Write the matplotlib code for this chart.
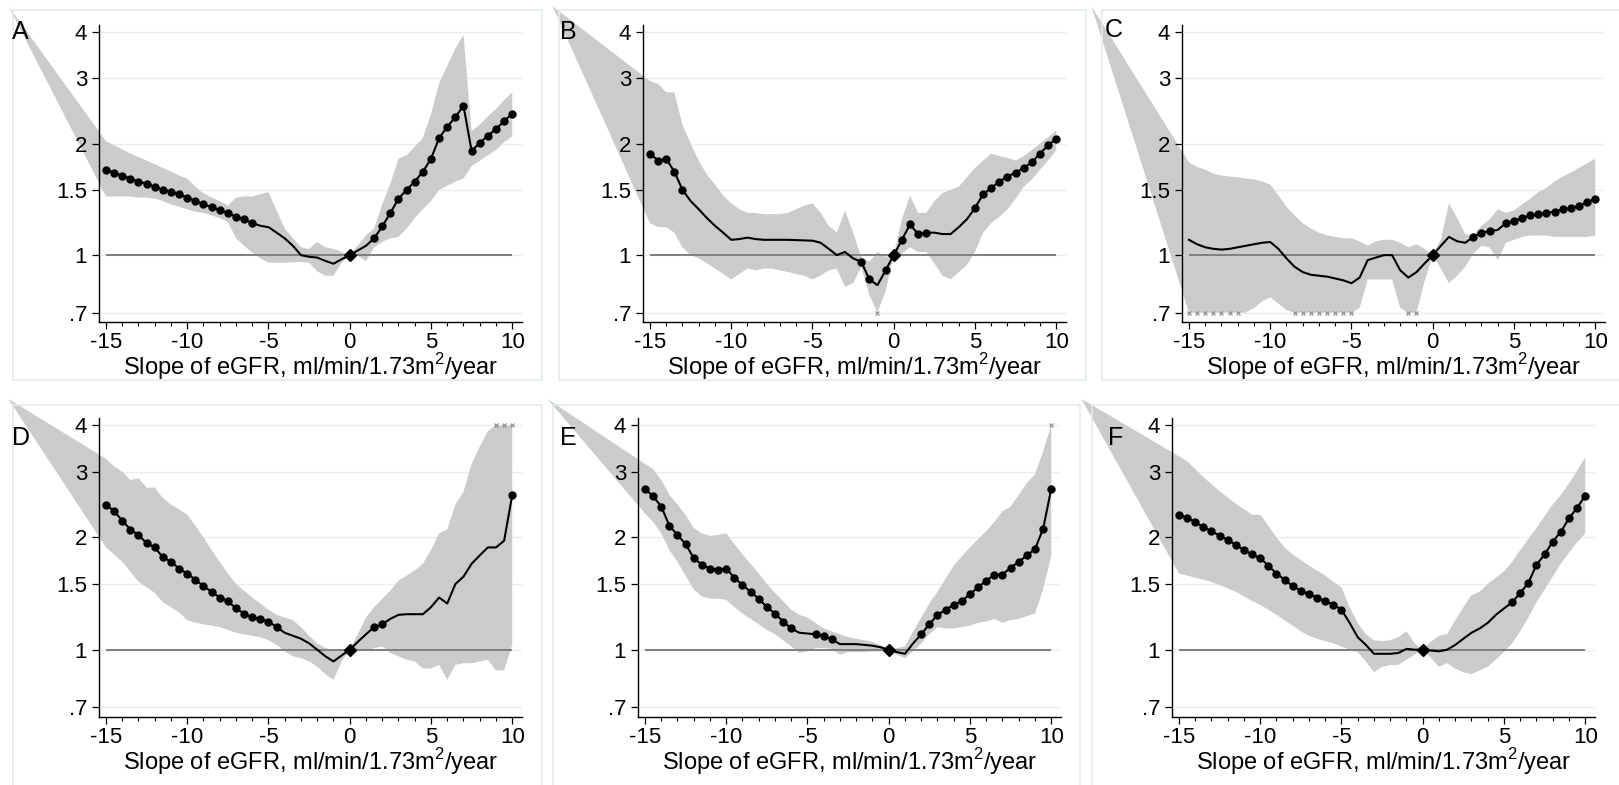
import numpy as np
import matplotlib
matplotlib.use("Agg")
import matplotlib.pyplot as plt
from matplotlib.patches import Rectangle
from matplotlib.ticker import NullFormatter, FixedLocator, MultipleLocator

plt.rcParams['font.family'] = ['Liberation Sans', 'DejaVu Sans']
plt.rcParams['mathtext.fontset'] = 'custom'
plt.rcParams['mathtext.rm'] = 'Liberation Sans'
plt.rcParams['axes.unicode_minus'] = False

# slope of eGFR grid: -15 .. 10 in steps of 0.5
x = np.arange(-15, 10.01, 0.5)

a_est = [1.70, 1.67, 1.64, 1.61, 1.58, 1.56, 1.53, 1.50, 1.48, 1.46, 1.43, 1.40, 1.37, 1.35, 1.32, 1.30, 1.27, 1.25, 1.22,
         1.20, 1.19, 1.15, 1.11, 1.06, 1.0, 0.99, 0.985, 0.965, 0.948, 0.975, 1.0, 1.03, 1.06, 1.11, 1.195, 1.30, 1.42,
         1.50, 1.58, 1.68, 1.82, 2.07, 2.22, 2.36, 2.53, 1.91, 2.01, 2.10, 2.19, 2.30, 2.41]
a_hi = [2.03, 1.98, 1.93, 1.88, 1.84, 1.80, 1.76, 1.72, 1.68, 1.64, 1.61, 1.53, 1.47, 1.43, 1.40, 1.36, 1.43, 1.44, 1.44,
        1.46, 1.48, 1.32, 1.18, 1.11, 1.05, 1.04, 1.085, 1.05, 1.04, 1.02, 1.0, 1.06, 1.13, 1.18, 1.37, 1.56, 1.82,
        1.86, 1.96, 2.07, 2.40, 2.91, 3.24, 3.61, 3.93, 2.16, 2.25, 2.37, 2.48, 2.62, 2.75]
a_lo = [1.44, 1.44, 1.44, 1.44, 1.43, 1.43, 1.42, 1.40, 1.37, 1.35, 1.33, 1.31, 1.30, 1.28, 1.26, 1.23, 1.11, 1.06, 1.017,
        0.98, 0.954, 0.954, 0.954, 0.956, 0.958, 0.954, 0.904, 0.88, 0.88, 0.954, 1.0, 0.996, 0.964, 1.05, 1.085, 1.11,
        1.12, 1.18, 1.26, 1.33, 1.40, 1.50, 1.54, 1.58, 1.61, 1.74, 1.80, 1.86, 1.92, 2.02, 2.09]

b_est = [1.88, 1.80, 1.82, 1.68, 1.50, 1.40, 1.33, 1.26, 1.20, 1.15, 1.10, 1.105, 1.115, 1.105, 1.10, 1.10, 1.10, 1.10,
         1.098, 1.096, 1.094, 1.08, 1.04, 1.0, 1.02, 0.98, 0.96, 0.86, 0.83, 0.91, 1.0, 1.10, 1.21, 1.14, 1.15, 1.15,
         1.14, 1.14, 1.19, 1.25, 1.34, 1.46, 1.52, 1.58, 1.63, 1.67, 1.72, 1.78, 1.88, 1.98, 2.06]
b_hi = [2.95, 2.90, 2.75, 2.75, 2.25, 2.0, 1.80, 1.65, 1.55, 1.45, 1.38, 1.33, 1.30, 1.30, 1.29, 1.29, 1.29, 1.30, 1.33,
        1.36, 1.38, 1.30, 1.20, 1.15, 1.32, 1.15, 0.99, 0.96, 1.02, 0.99, 1.0, 1.25, 1.45, 1.30, 1.30, 1.40, 1.47, 1.50,
        1.53, 1.62, 1.72, 1.80, 1.88, 1.85, 1.83, 1.80, 1.85, 1.92, 2.0, 2.08, 2.17]
b_lo = [1.22, 1.19, 1.19, 1.15, 1.05, 1.0, 0.98, 0.95, 0.92, 0.89, 0.86, 0.89, 0.92, 0.91, 0.92, 0.92, 0.91, 0.90, 0.89,
        0.88, 0.86, 0.88, 0.91, 0.92, 0.82, 0.84, 0.93, 0.78, 0.68, 0.80, 1.0, 1.01, 1.05, 1.02, 1.02, 0.95, 0.88, 0.86,
        0.90, 0.94, 1.02, 1.15, 1.22, 1.27, 1.33, 1.42, 1.53, 1.60, 1.70, 1.80, 1.92]

c_est = [1.10, 1.07, 1.05, 1.04, 1.035, 1.04, 1.05, 1.06, 1.07, 1.08, 1.085, 1.04, 0.98, 0.93, 0.90, 0.885, 0.88, 0.875,
         0.865, 0.855, 0.84, 0.87, 0.97, 0.985, 1.0, 1.0, 0.91, 0.87, 0.90, 0.95, 1.0, 1.06, 1.12, 1.09, 1.08, 1.12, 1.15,
         1.16, 1.17, 1.22, 1.24, 1.26, 1.28, 1.29, 1.30, 1.31, 1.33, 1.34, 1.36, 1.39, 1.42]
c_hi = [1.78, 1.73, 1.70, 1.66, 1.64, 1.63, 1.62, 1.61, 1.60, 1.58, 1.55, 1.45, 1.35, 1.28, 1.22, 1.18, 1.15, 1.13, 1.12,
        1.11, 1.11, 1.09, 1.06, 1.09, 1.10, 1.10, 1.08, 1.05, 1.07, 1.04, 1.0, 1.10, 1.38, 1.26, 1.14, 1.13, 1.20, 1.25,
        1.33, 1.30, 1.32, 1.37, 1.42, 1.48, 1.52, 1.58, 1.63, 1.67, 1.72, 1.77, 1.82]
c_lo = [0.6, 0.6, 0.6, 0.6, 0.6, 0.6, 0.66, 0.70, 0.72, 0.75, 0.77, 0.74, 0.71, 0.65, 0.6, 0.6, 0.6, 0.6, 0.6, 0.6,
        0.65, 0.72, 0.86, 0.86, 0.86, 0.86, 0.72, 0.65, 0.66, 0.85, 1.0, 0.92, 0.84, 0.88, 0.93, 1.01, 1.06, 1.05, 0.97,
        1.08, 1.10, 1.12, 1.13, 1.13, 1.13, 1.12, 1.12, 1.12, 1.12, 1.12, 1.13]

d_est = [2.45, 2.35, 2.22, 2.10, 2.03, 1.93, 1.88, 1.77, 1.72, 1.65, 1.60, 1.54, 1.48, 1.43, 1.38, 1.35, 1.29, 1.25, 1.22,
         1.21, 1.19, 1.15, 1.11, 1.09, 1.07, 1.04, 1.0, 0.96, 0.93, 0.965, 1.0, 1.05, 1.10, 1.15, 1.17, 1.21, 1.24, 1.245,
         1.245, 1.245, 1.30, 1.38, 1.33, 1.50, 1.57, 1.70, 1.79, 1.88, 1.88, 1.96, 2.60]
d_hi = [3.25, 3.1, 3.0, 2.85, 2.88, 2.72, 2.72, 2.55, 2.45, 2.38, 2.30, 2.15, 2.0, 1.85, 1.72, 1.60, 1.50, 1.44, 1.38, 1.33,
        1.28, 1.24, 1.22, 1.20, 1.15, 1.09, 1.04, 1.01, 1.0, 1.0, 1.0, 1.10, 1.22, 1.30, 1.37, 1.44, 1.53, 1.58, 1.63,
        1.70, 1.85, 2.05, 2.10, 2.45, 2.65, 3.15, 3.50, 3.85, 4.3, 4.3, 4.3]
d_lo = [1.88, 1.80, 1.72, 1.62, 1.52, 1.47, 1.42, 1.34, 1.30, 1.26, 1.20, 1.18, 1.17, 1.16, 1.15, 1.13, 1.11, 1.10, 1.09,
        1.08, 1.06, 1.03, 0.99, 0.96, 0.95, 0.93, 0.90, 0.86, 0.83, 0.93, 1.0, 1.0, 0.99, 1.01, 1.02, 0.98, 0.96, 0.94,
        0.93, 0.89, 0.89, 0.91, 0.83, 0.91, 0.92, 0.92, 0.93, 0.94, 0.88, 0.88, 1.03]

e_est = [2.70, 2.58, 2.42, 2.15, 2.03, 1.92, 1.76, 1.69, 1.65, 1.64, 1.65, 1.56, 1.49, 1.43, 1.37, 1.30, 1.25, 1.19, 1.14,
         1.11, 1.105, 1.10, 1.09, 1.065, 1.035, 1.035, 1.035, 1.03, 1.025, 1.015, 1.0, 0.985, 0.975, 1.04, 1.10, 1.17,
         1.24, 1.28, 1.32, 1.35, 1.41, 1.47, 1.53, 1.59, 1.59, 1.66, 1.72, 1.79, 1.86, 2.11, 2.70]
e_hi = [3.15, 3.05, 2.85, 2.60, 2.45, 2.30, 2.12, 2.05, 2.02, 2.03, 2.05, 1.92, 1.80, 1.70, 1.60, 1.50, 1.42, 1.35, 1.28,
        1.24, 1.22, 1.18, 1.14, 1.12, 1.10, 1.08, 1.07, 1.06, 1.05, 1.03, 1.0, 1.01, 1.02, 1.12, 1.22, 1.33, 1.43, 1.55,
        1.68, 1.78, 1.88, 1.98, 2.08, 2.20, 2.35, 2.42, 2.60, 2.80, 2.95, 3.4, 4.2]
e_lo = [2.32, 2.20, 2.05, 1.85, 1.72, 1.58, 1.45, 1.39, 1.37, 1.37, 1.36, 1.30, 1.25, 1.21, 1.17, 1.13, 1.10, 1.06, 1.02,
        0.98, 0.99, 1.01, 1.01, 1.005, 0.97, 0.985, 0.985, 0.985, 0.99, 0.99, 1.0, 0.97, 0.95, 0.99, 1.04, 1.10, 1.15,
        1.14, 1.14, 1.15, 1.16, 1.18, 1.19, 1.21, 1.18, 1.20, 1.21, 1.23, 1.25, 1.45, 1.78]

f_est = [2.30, 2.26, 2.20, 2.13, 2.08, 2.02, 1.97, 1.91, 1.85, 1.80, 1.76, 1.68, 1.60, 1.54, 1.48, 1.44, 1.41, 1.38, 1.35,
         1.32, 1.28, 1.18, 1.08, 1.03, 0.975, 0.975, 0.975, 0.98, 1.005, 1.0, 1.0, 0.995, 0.99, 1.0, 1.03, 1.07, 1.11,
         1.14, 1.18, 1.24, 1.29, 1.34, 1.42, 1.51, 1.69, 1.80, 1.95, 2.07, 2.25, 2.40, 2.59]
f_hi = [3.3, 3.2, 3.05, 2.90, 2.78, 2.66, 2.56, 2.46, 2.38, 2.30, 2.30, 2.15, 2.0, 1.88, 1.80, 1.74, 1.68, 1.63, 1.58,
        1.52, 1.47, 1.30, 1.18, 1.10, 1.06, 1.055, 1.06, 1.08, 1.12, 1.04, 1.0, 1.05, 1.09, 1.10, 1.20, 1.30, 1.40, 1.43,
        1.50, 1.56, 1.62, 1.72, 1.85, 1.98, 2.12, 2.28, 2.45, 2.60, 2.79, 3.02, 3.28]
f_lo = [1.60, 1.58, 1.56, 1.54, 1.52, 1.49, 1.46, 1.43, 1.39, 1.35, 1.32, 1.28, 1.24, 1.20, 1.16, 1.12, 1.09, 1.07, 1.055,
        1.04, 1.02, 1.0, 0.985, 0.93, 0.87, 0.90, 0.91, 0.91, 0.94, 0.97, 1.0, 0.95, 0.90, 0.92, 0.89, 0.87, 0.86, 0.88,
        0.90, 0.94, 0.985, 1.04, 1.12, 1.22, 1.34, 1.45, 1.57, 1.70, 1.82, 1.94, 2.05]

panels = [("A", a_est, a_lo, a_hi), ("B", b_est, b_lo, b_hi), ("C", c_est, c_lo, c_hi),
          ("D", d_est, d_lo, d_hi), ("E", e_est, e_lo, e_hi), ("F", f_est, f_lo, f_hi)]

W, H = 1619, 785
fig = plt.figure(figsize=(W / 100, H / 100), dpi=100)

# panel frames (pixels: left, top, right, bottom) and axes left spine
frames = [(13, 10, 542, 380), (559, 10, 1086, 380), (1102, 10, 1625, 380),
          (13, 405, 542, 790), (553, 405, 1080, 790), (1092, 405, 1625, 790)]
ax_left = [99, 643, 1182, 99, 638, 1172]
letter_pos = [(12, 32), (560, 32), (1105, 30), (12, 438), (560, 438), (1108, 438)]

lo_lim, hi_lim = 0.66, 4.18
band = '#cbcbcb'

for i, (name, est, lo, hi) in enumerate(panels):
    l, t, r, b = frames[i]
    fig.patches.append(Rectangle((l / W, 1 - b / H), (r - l) / W, (b - t) / H, transform=fig.transFigure,
                                 fill=False, edgecolor='#e2ebee', lw=1.2, zorder=0))
    top_px, bot_px = (25, 322) if i < 3 else (418, 717)
    ax = fig.add_axes([ax_left[i] / W, 1 - bot_px / H, 423 / W, (bot_px - top_px) / H])
    est, lo, hi = np.array(est), np.array(lo), np.array(hi)
    ax.set_yscale('log')
    ax.set_ylim(lo_lim, hi_lim)
    ax.set_xlim(-15.43, 10.6)

    for yv in [0.7, 1, 1.5, 2, 3, 4]:
        ax.axhline(yv, color='#e6eef1', lw=1, zorder=0)

    lo_c = np.clip(lo, 0.7, 4)
    hi_c = np.clip(hi, 0.7, 4)
    # band, with the wedge that runs off past the axis at the left
    px = np.concatenate([[-21], x, x[::-1]])
    py = np.concatenate([[4.7], hi_c, lo_c[::-1]])
    ax.fill(px, py, color=band, lw=0, clip_on=False, zorder=1)
    ax.plot(x[lo < 0.7], np.full((lo < 0.7).sum(), 0.7), 'x', color='#888888', ms=2.5, mew=0.8, zorder=2)
    ax.plot(x[hi > 4], np.full((hi > 4).sum(), 4), 'x', color='#888888', ms=2.5, mew=0.8, zorder=2)

    ax.hlines(1, -15, 10, color='#808080', lw=1.4, zorder=2)
    ax.plot(x, est, color='black', lw=1.5, zorder=3)
    sig = ((lo > 1) | (hi < 1)) & (x != 0)
    ax.plot(x[sig], est[sig], 'o', color='black', ms=5, zorder=4)
    ax.plot([0], [1], 'D', color='black', ms=6, zorder=4)

    ax.yaxis.set_major_locator(FixedLocator([0.7, 1, 1.5, 2, 3, 4]))
    ax.yaxis.set_major_formatter(plt.FixedFormatter(['.7', '1', '1.5', '2', '3', '4']))
    ax.yaxis.set_minor_formatter(NullFormatter())
    ax.yaxis.set_minor_locator(FixedLocator([]))
    ax.set_xticks([-15, -10, -5, 0, 5, 10])
    ax.xaxis.set_minor_locator(MultipleLocator(1))
    ax.tick_params(axis='both', labelsize=16, length=5, width=0.9)
    ax.tick_params(axis='x', which='minor', length=3, width=0.8)
    ax.tick_params(axis='x', pad=2)
    for s in ['top', 'right']:
        ax.spines[s].set_visible(False)
    for s in ['left', 'bottom']:
        ax.spines[s].set_linewidth(1)
    ax.set_xlabel('Slope of eGFR, ml/min/1.73m$^2$/year', fontsize=17, labelpad=-1)

    lx, ly = letter_pos[i]
    fig.text(lx / W, 1 - ly / H, name, fontsize=18, va='center', ha='left')

fig.savefig('out.png', dpi=100)
